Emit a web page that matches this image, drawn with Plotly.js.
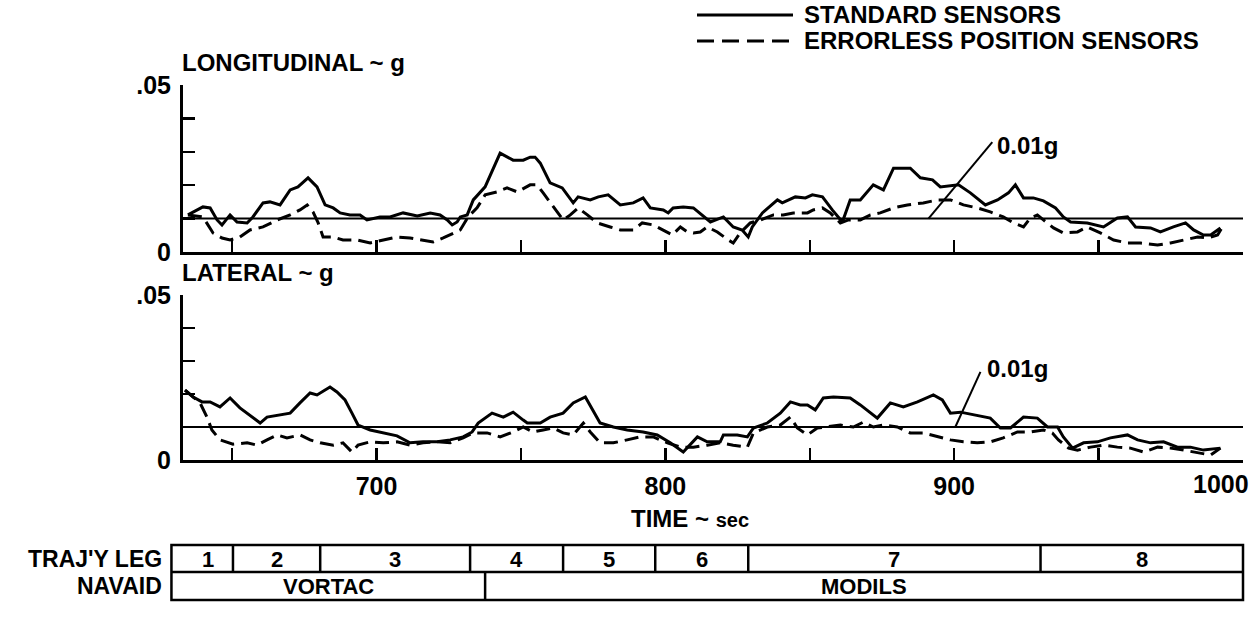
<!DOCTYPE html>
<html>
<head>
<meta charset="utf-8">
<script src="https://cdn.plot.ly/plotly-3.0.1.min.js"></script>
<style>html,body{margin:0;padding:0;background:#fff;}#chart{width:1258px;height:621px;}</style>
</head>
<body>
<div id="chart"></div>
<script>
// ---------- DATA (time in sec, acceleration in g) ----------
const tTopStd = [634.7,639.9,642.4,644.8,646.5,649.3,651.7,655.2,657.2,660.7,663.1,666.6,670.1,672.8,676.3,679.4,682.2,685.0,687.4,690.8,694.3,696.7,701.2,704.7,709.2,714.1,718.6,722.0,724.5,726.2,727.9,729.0,731.4,733.5,737.6,740.0,742.8,747.3,750.8,753.2,754.9,756.7,760.1,764.3,768.1,769.8,774.0,776.8,780.2,784.4,788.9,792.3,794.8,799.3,801.0,802.7,806.2,809.7,812.8,815.6,820.1,823.5,826.6,828.7,830.1,833.6,838.8,840.5,845.0,848.5,850.9,854.4,857.8,861.3,864.0,867.5,872.0,875.5,879.0,884.8,888.3,892.5,895.2,901.5,905.6,910.8,915.0,918.8,921.2,924.0,927.4,930.9,935.1,937.8,940.3,946.1,951.7,956.5,960.0,962.8,968.0,971.4,975.9,980.1,982.9,986.3,988.8,992.2];
const gTopStd = [.0111,.0135,.0132,.0096,.0081,.0111,.0090,.0087,.0105,.0147,.0150,.0141,.0186,.0195,.0222,.0195,.0141,.0132,.0117,.0111,.0111,.0096,.0105,.0105,.0117,.0108,.0117,.0111,.0096,.0081,.0090,.0105,.0111,.0156,.0195,.0240,.0296,.0275,.0275,.0284,.0284,.0266,.0207,.0192,.0147,.0165,.0156,.0165,.0171,.0141,.0147,.0162,.0132,.0126,.0117,.0132,.0135,.0132,.0111,.0090,.0105,.0075,.0066,.0045,.0075,.0117,.0156,.0147,.0165,.0162,.0171,.0165,.0126,.0090,.0156,.0156,.0201,.0186,.0251,.0251,.0222,.0216,.0195,.0201,.0177,.0141,.0156,.0177,.0201,.0162,.0162,.0153,.0132,.0105,.0090,.0087,.0075,.0102,.0105,.0075,.0072,.0060,.0075,.0087,.0066,.0051,.0051,.0072];

const tTopErr = [634.7,639.9,643.4,646.5,649.3,652.7,656.2,660.7,665.6,670.1,673.5,676.0,678.0,679.8,681.5,685.0,688.4,693.3,697.8,702.3,707.1,711.6,715.1,719.6,723.1,726.5,729.0,731.7,734.8,737.6,741.8,745.2,748.7,753.2,755.6,757.7,761.2,764.6,767.1,769.8,773.0,776.4,780.9,784.4,788.9,792.0,795.8,799.3,802.4,805.2,807.6,809.7,812.1,814.5,818.0,821.8,823.5,825.9,829.4,832.9,837.4,840.8,844.3,849.2,851.2,854.4,857.1,860.6,863.4,867.5,871.0,874.4,879.0,883.8,889.3,894.2,898.7,903.2,908.0,912.5,917.0,920.5,924.0,926.4,928.8,930.9,934.4,937.8,942.7,946.1,950.6,955.2,960.0,964.5,970.4,974.9,979.4,984.3,987.7,991.2,992.9];
const gTopErr = [.0111,.0105,.0057,.0042,.0036,.0045,.0066,.0075,.0096,.0111,.0126,.0141,.0120,.0087,.0045,.0045,.0036,.0036,.0027,.0036,.0045,.0042,.0036,.0030,.0042,.0057,.0066,.0105,.0132,.0171,.0180,.0192,.0180,.0201,.0201,.0177,.0135,.0096,.0111,.0132,.0111,.0087,.0075,.0066,.0066,.0087,.0081,.0066,.0051,.0075,.0060,.0057,.0060,.0075,.0060,.0036,.0027,.0057,.0087,.0096,.0111,.0111,.0117,.0117,.0126,.0132,.0117,.0087,.0096,.0096,.0111,.0117,.0132,.0141,.0147,.0156,.0156,.0141,.0132,.0120,.0105,.0087,.0075,.0102,.0111,.0096,.0072,.0057,.0060,.0075,.0057,.0036,.0027,.0027,.0021,.0027,.0036,.0045,.0042,.0051,.0075];

const tBotStd = [633.7,636.5,639.6,642.4,645.8,649.3,652.7,656.2,659.7,662.1,665.6,670.1,673.5,677.0,679.4,683.9,686.3,689.1,691.5,693.6,697.8,702.3,707.1,711.6,716.1,721.0,725.5,730.0,733.1,735.2,740.0,743.9,747.3,750.8,752.2,756.7,760.1,764.6,768.1,772.3,774.7,777.4,782.0,786.8,792.3,797.2,801.7,806.2,811.1,814.5,819.0,820.1,824.9,828.4,830.5,835.3,839.8,843.3,846.7,849.2,851.9,854.7,858.2,864.0,867.5,871.0,873.4,877.9,882.4,887.3,892.8,895.9,898.7,902.2,908.0,912.5,916.0,919.5,924.0,928.8,932.3,935.8,937.8,941.0,944.8,949.6,954.1,960.0,963.5,968.0,972.5,977.3,981.8,986.3,992.2];
const gBotStd = [.0212,.0191,.0176,.0176,.0161,.0188,.0158,.0136,.0112,.0130,.0136,.0142,.0173,.0203,.0197,.0221,.0206,.0182,.0142,.0106,.0091,.0082,.0073,.0052,.0055,.0055,.0061,.0070,.0085,.0112,.0142,.0130,.0145,.0121,.0112,.0112,.0130,.0142,.0173,.0191,.0152,.0112,.0100,.0091,.0085,.0076,.0052,.0024,.0070,.0055,.0055,.0076,.0076,.0070,.0097,.0112,.0142,.0176,.0167,.0167,.0152,.0188,.0191,.0188,.0167,.0142,.0127,.0173,.0161,.0176,.0197,.0182,.0142,.0145,.0136,.0127,.0097,.0097,.0130,.0127,.0100,.0100,.0070,.0036,.0052,.0055,.0067,.0076,.0061,.0052,.0055,.0039,.0039,.0030,.0036];

const tBotErr = [633.7,638.9,641.3,643.0,645.8,650.3,655.2,658.6,662.1,665.6,669.0,673.5,677.0,680.5,685.0,688.4,691.5,693.6,697.8,702.3,707.1,711.6,716.1,721.0,725.5,730.0,733.5,738.3,742.8,747.3,750.8,754.2,757.7,761.2,764.6,768.1,771.6,774.0,777.4,782.0,786.8,791.3,795.8,800.7,805.2,809.7,814.5,819.0,823.5,828.4,830.5,835.3,839.8,843.3,845.7,849.2,852.6,856.1,860.6,865.1,868.6,872.0,875.5,880.3,884.8,889.3,894.2,898.7,903.2,908.0,912.5,917.0,921.9,926.4,930.9,934.0,936.1,939.6,942.7,947.2,951.7,956.5,961.0,965.6,970.4,974.9,979.4,984.3,988.8,992.2];
const gBotErr = [.0212,.0173,.0130,.0091,.0061,.0048,.0052,.0045,.0061,.0076,.0067,.0076,.0061,.0052,.0045,.0052,.0024,.0045,.0055,.0052,.0055,.0045,.0052,.0055,.0052,.0067,.0082,.0082,.0070,.0085,.0100,.0085,.0091,.0097,.0082,.0076,.0112,.0085,.0052,.0052,.0061,.0070,.0070,.0052,.0039,.0039,.0045,.0052,.0045,.0039,.0082,.0100,.0106,.0130,.0097,.0076,.0097,.0100,.0106,.0100,.0115,.0100,.0106,.0100,.0082,.0082,.0070,.0061,.0055,.0052,.0055,.0067,.0085,.0085,.0091,.0082,.0061,.0036,.0030,.0039,.0045,.0039,.0036,.0024,.0039,.0036,.0030,.0021,.0015,.0036];

const seriesNames = ['STANDARD SENSORS', 'ERRORLESS POSITION SENSORS'];
const refLevel = 0.01;
const refLabel = '0.01g';
const xTickVals = [650, 700, 750, 800, 850, 900, 950, 1000];
const xTickText = ['', '700', '', '800', '', '900', '', ''];
const lastTickLabel = '1000';
const yTickVals = [0, 0.01, 0.02, 0.03, 0.04, 0.05];
const yTickText = ['0', '', '', '', '', '.05'];
const legLabels = ['1','2','3','4','5','6','7','8'];
const legBounds = [629, 650.3, 680.5, 732.4, 764.6, 796.5, 828.7, 929.9, 1000];
const navLabels = ['VORTAC', 'MODILS'];
const navBounds = [629, 737.6, 1000];

// ---------- LAYOUT ----------
const W = 1258, H = 621;
const xDom = [183/W, 1243/W];
const xRange = [633, 1000];
const yDomTop = [1-252/H, 1-85/H];
const yDomBot = [1-460/H, 1-295/H];
const FONT = 'Liberation Sans, Arial, Helvetica, sans-serif';
const fs = 25;
const px = v => v / W;           // horizontal pixel -> paper
const py = v => 1 - v / H;       // vertical pixel -> paper
const tPaper = t => xDom[0] + (t - xRange[0]) / (xRange[1] - xRange[0]) * (xDom[1] - xDom[0]);

const solid = {color: '#000', width: 3};
const dashed = {color: '#000', width: 3, dash: '14px,7px'};

const traces = [
  {x: tTopStd, y: gTopStd, xaxis: 'x', yaxis: 'y', mode: 'lines', line: solid, name: seriesNames[0]},
  {x: tTopErr, y: gTopErr, xaxis: 'x', yaxis: 'y', mode: 'lines', line: dashed, name: seriesNames[1]},
  {x: tBotStd, y: gBotStd, xaxis: 'x2', yaxis: 'y2', mode: 'lines', line: solid, name: seriesNames[0]},
  {x: tBotErr, y: gBotErr, xaxis: 'x2', yaxis: 'y2', mode: 'lines', line: dashed, name: seriesNames[1]}
];

function xAxis(anchor, labels) {
  return {
    domain: xDom, range: xRange, anchor: anchor,
    showline: true, linewidth: 3, linecolor: '#000',
    ticks: 'inside', ticklen: 12, tickwidth: 2.5, tickcolor: '#000',
    tickvals: xTickVals, ticktext: xTickText, showticklabels: labels,
    tickfont: {family: FONT, size: fs, color: '#000', weight: 700},
    ticklabelstandoff: 2,
    showgrid: false, zeroline: false, fixedrange: true
  };
}
function yAxis(anchor, dom) {
  return {
    domain: dom, range: [0, 0.05], anchor: anchor,
    showline: true, linewidth: 3, linecolor: '#000',
    ticks: 'inside', ticklen: 12, tickwidth: 2.5, tickcolor: '#000',
    tickvals: yTickVals, ticktext: yTickText,
    tickfont: {family: FONT, size: fs, color: '#000', weight: 700},
    ticklabelstandoff: 4,
    showgrid: false, zeroline: false, fixedrange: true
  };
}

const shapes = [];
const annotations = [];
const txt = (text, x, y, xanchor, size, extra) => Object.assign({
  text: text, x: x, y: y, xref: 'paper', yref: 'paper', xanchor: xanchor, yanchor: 'middle',
  showarrow: false, borderpad: 0, font: {family: FONT, size: size || fs, color: '#000', weight: 700}
}, extra || {});

// reference 0.01g lines + leaders
[['x','y', 891.1, 913.2, 0.0329, 914.3, 0.032], ['x2','y2', 900.4, 909.1, 0.0267, 910.8, 0.0276]].forEach(r => {
  shapes.push({type: 'line', xref: r[0], yref: r[1], x0: xRange[0], x1: xRange[1], y0: refLevel, y1: refLevel, line: {color: '#000', width: 2}});
  shapes.push({type: 'line', xref: r[0], yref: r[1], x0: r[2], x1: r[3], y0: refLevel, y1: r[4], line: {color: '#000', width: 2}});
  annotations.push({text: refLabel, x: r[5], y: r[6], xref: r[0], yref: r[1], xanchor: 'left', yanchor: 'middle', showarrow: false,
    font: {family: FONT, size: 24, color: '#000', weight: 700}});
});

// legend
const legY = [15, 41];
shapes.push({type: 'line', xref: 'paper', yref: 'paper', x0: px(697), x1: px(793), y0: py(legY[0]), y1: py(legY[0]), line: {color: '#000', width: 3}});
shapes.push({type: 'line', xref: 'paper', yref: 'paper', x0: px(697), x1: px(793), y0: py(legY[1]), y1: py(legY[1]), line: {color: '#000', width: 3, dash: '17px,8px'}});
annotations.push(txt(seriesNames[0], px(803), py(legY[0]), 'left', 24));
annotations.push(txt(seriesNames[1], px(803), py(legY[1]), 'left', 24));

// panel titles
annotations.push(txt('LONGITUDINAL ~ g', px(181), py(62), 'left', 24));
annotations.push(txt('LATERAL ~ g', px(181), py(273), 'left', 24));
annotations.push(txt('TIME ~ <span style="font-size:20px">sec</span>', px(630), py(518), 'left', 24));
annotations.push({text: lastTickLabel, x: 1000, xref: 'x2', xanchor: 'center', xshift: -22, y: py(484), yref: 'paper', yanchor: 'middle',
  showarrow: false, font: {family: FONT, size: fs, color: '#000', weight: 700}});

// table
const rowTop = 545, rowMid = 572, rowBot = 600;
shapes.push({type: 'rect', xref: 'paper', yref: 'paper', x0: tPaper(legBounds[0]), x1: tPaper(legBounds[legBounds.length-1]), y0: py(rowBot), y1: py(rowTop), line: {color: '#000', width: 2.5}});
shapes.push({type: 'line', xref: 'paper', yref: 'paper', x0: tPaper(legBounds[0]), x1: tPaper(legBounds[legBounds.length-1]), y0: py(rowMid), y1: py(rowMid), line: {color: '#000', width: 2.5}});
for (let i = 1; i < legBounds.length - 1; i++) {
  shapes.push({type: 'line', xref: 'paper', yref: 'paper', x0: tPaper(legBounds[i]), x1: tPaper(legBounds[i]), y0: py(rowMid), y1: py(rowTop), line: {color: '#000', width: 2.5}});
}
for (let i = 1; i < navBounds.length - 1; i++) {
  shapes.push({type: 'line', xref: 'paper', yref: 'paper', x0: tPaper(navBounds[i]), x1: tPaper(navBounds[i]), y0: py(rowBot), y1: py(rowMid), line: {color: '#000', width: 2.5}});
}
const tfs = 22;
legLabels.forEach((l, i) => annotations.push(txt(l, (tPaper(legBounds[i]) + tPaper(legBounds[i+1])) / 2 + (i === 0 ? px(6) : 0), py(559), 'center', tfs)));
navLabels.forEach((l, i) => annotations.push(txt(l, (tPaper(navBounds[i]) + tPaper(navBounds[i+1])) / 2, py(586), 'center', tfs)));
annotations.push(txt("TRAJ'Y LEG", px(163), py(559), 'right', 23));
annotations.push(txt('NAVAID', px(163), py(586), 'right', 23));

const layout = {
  width: W, height: H, margin: {l: 0, r: 0, t: 0, b: 0},
  paper_bgcolor: '#fff', plot_bgcolor: '#fff', showlegend: false,
  font: {family: FONT, color: '#000'},
  xaxis: xAxis('y', false), yaxis: yAxis('x', yDomTop),
  xaxis2: xAxis('y2', true), yaxis2: yAxis('x2', yDomBot),
  shapes: shapes, annotations: annotations
};

Plotly.newPlot('chart', traces, layout, {displayModeBar: false, staticPlot: true});
</script>
</body>
</html>
